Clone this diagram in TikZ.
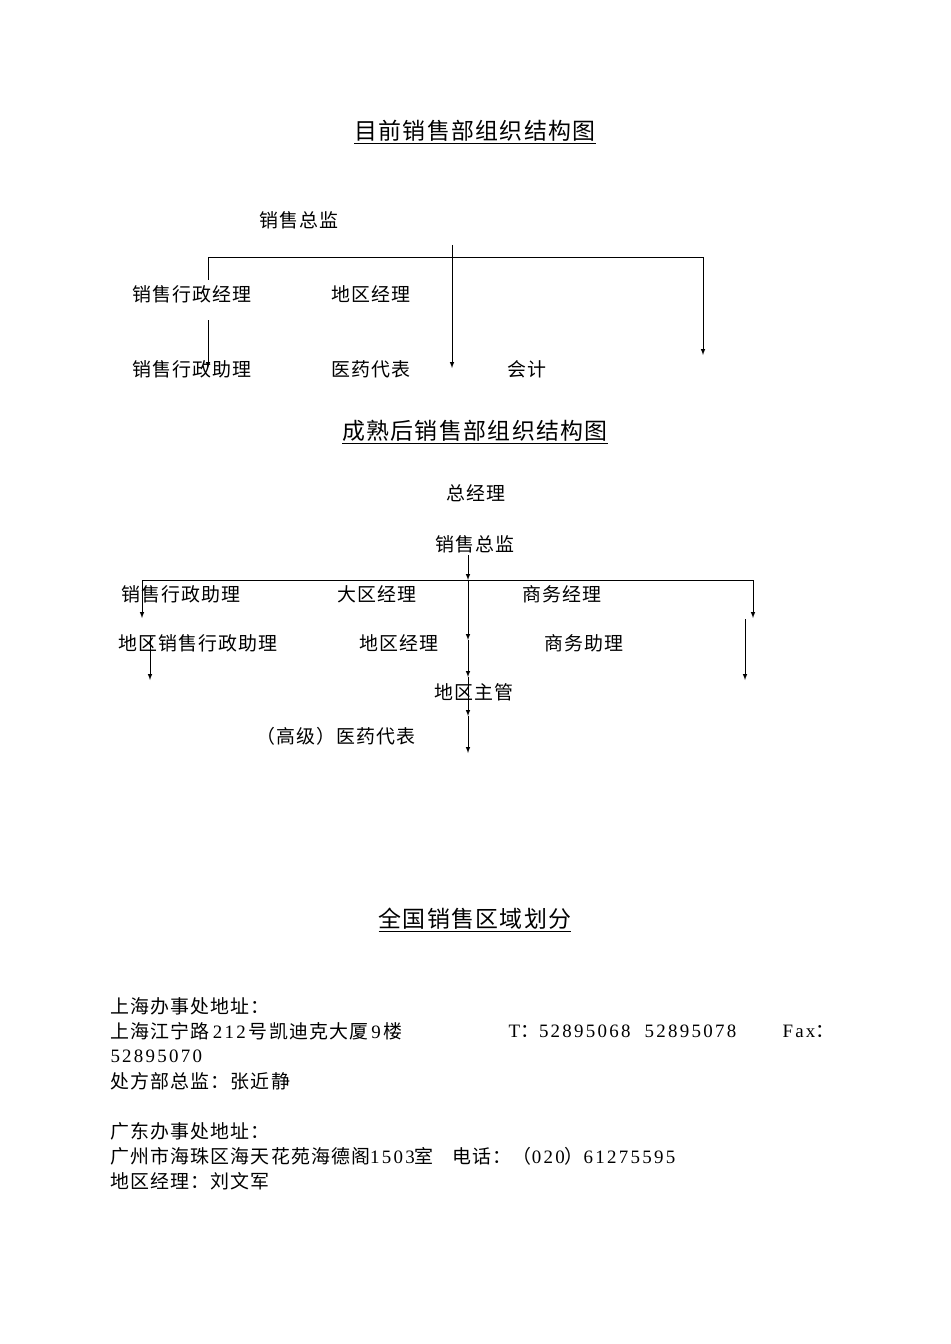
\documentclass[tikz,border=0pt]{standalone}
\usepackage{fontspec}
\setmainfont{Noto Sans CJK SC}[LetterSpace=6]
\newfontfamily\digits{Liberation Serif}[LetterSpace=12]
\begin{document}
\begin{tikzpicture}[>=latex,x=1bp,y=-1bp,line join=bevel,
  lbl/.style={inner sep=0pt,font=\fontsize{19}{22}\selectfont},
  ttl/.style={inner sep=0pt,font=\fontsize{23}{26}\selectfont},
  txt/.style={inner sep=0pt,anchor=west,font=\fontsize{19}{22}\selectfont}]
\useasboundingbox (0,0) rectangle (950,1344);
\pgfsetlinewidth{1bp}
%%
% Chart 1
\node[ttl] (title1) at (475,132) {\underline{目前销售部组织结构图}};
\node[lbl] (zj1) at (299,220) {销售总监};
\node[lbl] (xzjl) at (192,294) {销售行政经理};
\node[lbl] (dqjl) at (371,294) {地区经理};
\node[lbl] (xzzl) at (192,369) {销售行政助理};
\node[lbl] (yydb) at (371,369) {医药代表};
\node[lbl] (kj) at (527,369) {会计};
\coordinate (c1top) at (452,245);
\coordinate (c1mid) at (452,368);
\coordinate (c1l) at (208,257);
\coordinate (c1r) at (703,257);
\coordinate (c1lb) at (208,280);
\coordinate (c1la) at (208,320);
\coordinate (c1le) at (208,368);
\coordinate (c1re) at (703,355);
% Edge: bar
\draw (c1l) -- (c1r);
\draw (c1l) -- (c1lb);
% Edge: zj1 -> yydb
\draw [->] (c1top) -- (c1mid);
% Edge: xzjl -> xzzl
\draw [->] (c1la) -- (c1le);
% Edge: zj1 -> kj
\draw [->] (c1r) -- (c1re);
%%
% Chart 2
\node[ttl] (title2) at (475,432) {\underline{成熟后销售部组织结构图}};
\node[lbl] (zjl) at (476,493) {总经理};
\node[lbl] (zj2) at (475,544) {销售总监};
\node[lbl] (xzzl2) at (181,594) {销售行政助理};
\node[lbl] (dqj) at (377,594) {大区经理};
\node[lbl] (swjl) at (562,594) {商务经理};
\node[lbl] (dqxz) at (198,643) {地区销售行政助理};
\node[lbl] (dqjl2) at (399,643) {地区经理};
\node[lbl] (swzl) at (584,643) {商务助理};
\node[lbl] (dqzg) at (474,692) {地区主管};
\node[lbl] (gjdb) at (336,736) {（高级）医药代表};
\coordinate (c2a) at (468,555);
\coordinate (c2b) at (468,580);
\coordinate (c2c) at (468,640);
\coordinate (c2d) at (468,677);
\coordinate (c2e) at (468,716);
\coordinate (c2f) at (468,753);
\coordinate (c2l) at (142,580);
\coordinate (c2r) at (753,580);
\coordinate (c2le) at (142,618);
\coordinate (c2re) at (753,618);
\coordinate (c2l2) at (150,636);
\coordinate (c2l2e) at (150,680);
\coordinate (c2r2) at (745,619);
\coordinate (c2r2e) at (745,680);
% Edge: bar
\draw (c2l) -- (c2r);
% Edge: centre chain
\draw [->] (c2a) -- (c2b);
\draw [->] (c2b) -- (c2c);
\draw [->] (c2c) -- (c2d);
\draw [->] (c2d) -- (c2e);
\draw [->] (c2e) -- (c2f);
% Edge: side branches
\draw [->] (c2l) -- (c2le);
\draw [->] (c2l2) -- (c2l2e);
\draw [->] (c2r) -- (c2re);
\draw [->] (c2r2) -- (c2r2e);
%%
% Text block
\node[ttl] (title3) at (475,920) {\underline{全国销售区域划分}};
\node[txt] (sh) at (110,1006) {上海办事处地址：};
\node[txt] (sha) at (110,1031) {上海江宁路{\digits\,212\,}号凯迪克大厦{\digits\,9\,}楼};
\node[txt] (sht) at (508,1031) {{\digits T}：{\digits 52895068\ \ 52895078}};
\node[txt] (shf) at (782,1031) {{\digits Fax}：};
\node[txt] (shf2) at (110,1056) {\digits 52895070};
\node[txt] (shz) at (110,1081) {处方部总监：张近静};
\node[txt] (gd) at (110,1131) {广东办事处地址：};
\node[txt] (gda) at (110,1156) {广州市海珠区海天花苑海德阁{\digits 1503}室\quad 电话：（{\digits 020}）{\digits 61275595}};
\node[txt] (gdz) at (110,1181) {地区经理：刘文军};
%
\end{tikzpicture}
\end{document}
